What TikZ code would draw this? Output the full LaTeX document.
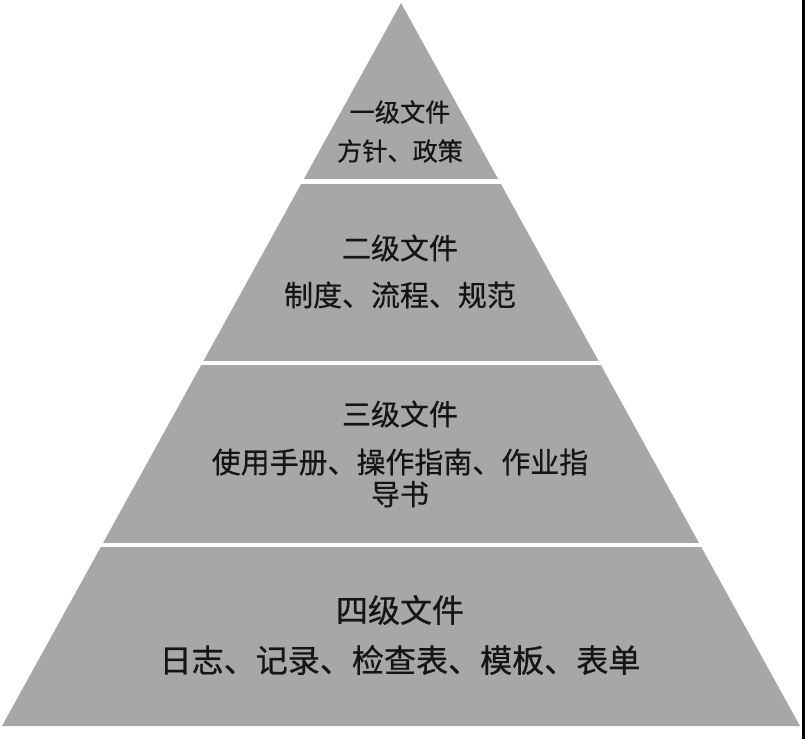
\documentclass[tikz,border=0pt]{standalone}
\usepackage{fontspec}
\newfontfamily\cjk{Noto Sans CJK SC}[FakeBold=0.6]
\definecolor{pyrgray}{HTML}{A7A7A7}
\definecolor{inkblack}{HTML}{151515}
\tikzset{lbl/.style={text=inkblack,inner sep=0pt,align=center}}
\begin{document}
\begin{tikzpicture}
  \useasboundingbox (0,0) rectangle (20.125,18.475);
  \fill[pyrgray] (10.025,18.4)--(0.05,0.325)--(20,0.325)--cycle;
  \draw[white,line width=3pt] (0,13.94)--(20.125,13.94);
  \draw[white,line width=3pt] (0,9.4)--(20.125,9.4);
  \draw[white,line width=3pt] (0,4.85)--(20.125,4.85);
  \fill[black] (20.05,0) rectangle (20.125,18.475);
  \node[lbl,font=\cjk\fontsize{17.9}{20}\selectfont] (lvlone) at (10,15.675) {一级文件};
  \node[lbl,font=\cjk\fontsize{17.9}{20}\selectfont] (docone) at (10,14.7) {方针、政策};
  \node[lbl,font=\cjk\fontsize{20.6}{22.8}\selectfont] (lvltwo) at (10,12.275) {二级文件};
  \node[lbl,font=\cjk\fontsize{20.6}{22.8}\selectfont] (doctwo) at (10,11.1) {制度、流程、规范};
  \node[lbl,font=\cjk\fontsize{20.6}{22.8}\selectfont] (lvlthree) at (10,8.125) {三级文件};
  \node[lbl,font=\cjk\fontsize{20.6}{22.8}\selectfont] (docthree) at (10,6.525) {使用手册、操作指南、作业指\\导书};
  \node[lbl,font=\cjk\fontsize{22.8}{25}\selectfont] (lvlfour) at (10,3.225) {四级文件};
  \node[lbl,font=\cjk\fontsize{22.8}{25}\selectfont] (docfour) at (10,1.975) {日志、记录、检查表、模板、表单};
\end{tikzpicture}
\end{document}
